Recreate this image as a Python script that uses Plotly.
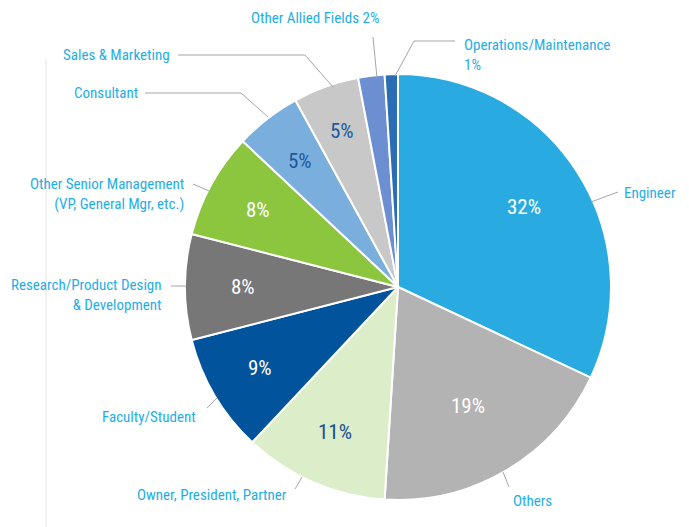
import math
import plotly.graph_objects as go

# ---- data ----
categories = ["Engineer", "Others", "Owner, President, Partner", "Faculty/Student",
              "Research/Product Design & Development",
              "Other Senior Management (VP, General Mgr, etc.)",
              "Consultant", "Sales & Marketing", "Other Allied Fields",
              "Operations/Maintenance"]
values = [32, 19, 11, 9, 8, 8, 5, 5, 2, 1]
slice_colors = ["#29abe2", "#b3b3b3", "#dcedc9", "#01539c", "#777777",
                "#8cc63f", "#7aaedc", "#c8c8c8", "#6b8fd0", "#2a6db5"]
text_colors = ["white", "white", "#1a4f93", "white", "white",
               "white", "#1a5aa0", "#1a5aa0", "white", "white"]
show_inside = [True, True, True, True, True, True, True, True, False, False]

W, H = 689, 527
FONT = "Roboto Condensed, Liberation Sans Narrow, DejaVu Sans Condensed, Roboto, sans-serif"
LABEL_COLOR = "#1eaee6"
LINE_COLOR = "#a6a6a6"

def px(x):
    return x / W

def py(y):
    return 1 - y / H

# pie geometry (pixels): center (398, 287), radius 213
cx, cy, r = 398, 287, 213
# radial placement (fraction of radius) of the inside percentage labels
inside_r = [0.70, 0.65, 0.74, 0.75, 0.73, 0.75, 0.75, 0.78, 0.7, 0.7]

fig = go.Figure(go.Pie(
    labels=categories,
    values=values,
    sort=False,
    direction="clockwise",
    rotation=0,
    textinfo="none",
    marker=dict(colors=slice_colors, line=dict(color="white", width=2)),
    domain=dict(x=[px(cx - r), px(cx + r)], y=[py(cy + r), py(cy - r)]),
    showlegend=False,
    hoverinfo="label+percent",
))

annotations = []
# inside percentage labels at each slice's mid-angle
total = sum(values)
cum = 0
for v, tc, show, k in zip(values, text_colors, show_inside, inside_r):
    mid = (cum + v / 2) / total * 2 * math.pi
    cum += v
    if not show:
        continue
    x = cx + k * r * math.sin(mid)
    y = cy - k * r * math.cos(mid)
    annotations.append(dict(
        text=f"{round(v / total * 100)}%", x=px(x), y=py(y), xref="paper", yref="paper",
        xanchor="center", yanchor="middle", showarrow=False,
        font=dict(family=FONT, size=21, color=tc),
    ))

# outside labels: (text, x, y, xanchor, align)
lab = categories
outside = [
    (lab[0], 622, 193, "left", "left"),
    (lab[1], 511, 501, "left", "left"),
    (lab[2], 289, 495, "right", "right"),
    (lab[3], 198, 417, "right", "right"),
    ("Research/Product Design<br>& Development", 164, 295, "right", "right"),
    ("Other Senior Management<br>(VP, General Mgr, etc.)", 186, 194, "right", "right"),
    (lab[6], 140, 93, "right", "right"),
    (lab[7], 172, 55, "right", "right"),
    (f"{lab[8]} {values[8]}%", 315, 18, "center", "center"),
    (f"{lab[9]}<br>{values[9]}%", 462, 55, "left", "left"),
]
for t, x, y, xa, al in outside:
    annotations.append(dict(
        text=t, x=px(x), y=py(y), xref="paper", yref="paper",
        xanchor=xa, yanchor="middle", align=al, showarrow=False,
        font=dict(family=FONT, size=15, color=LABEL_COLOR),
    ))

leaders = [
    [(618, 192), (591, 202)],
    [(509, 487), (503, 472)],
    [(295, 489), (302, 477)],
    [(207, 408), (217, 398)],
    [(171, 286), (186, 286)],
    [(193, 184), (209, 191)],
    [(145, 93), (241, 93), (268, 117)],
    [(178, 55), (305, 55), (333, 87)],
    [(373, 37), (377, 78)],
    [(455, 41), (414, 41), (395, 76)],
]
shapes = []
for pts in leaders:
    path = "M " + " L ".join(f"{px(x)},{py(y)}" for x, y in pts)
    shapes.append(dict(type="path", path=path, xref="paper", yref="paper",
                       line=dict(color=LINE_COLOR, width=1)))
# thin decorative vertical rule at left
shapes.append(dict(type="line", x0=px(46), x1=px(46), y0=py(59), y1=py(527),
                   xref="paper", yref="paper", line=dict(color="#e4e4e4", width=1)))

fig.update_layout(
    width=W, height=H,
    margin=dict(l=0, r=0, t=0, b=0),
    paper_bgcolor="white", plot_bgcolor="white",
    annotations=annotations, shapes=shapes,
)
fig.write_html("out.html", config={"displayModeBar": False},
               post_script="document.body.style.margin='0px';")
